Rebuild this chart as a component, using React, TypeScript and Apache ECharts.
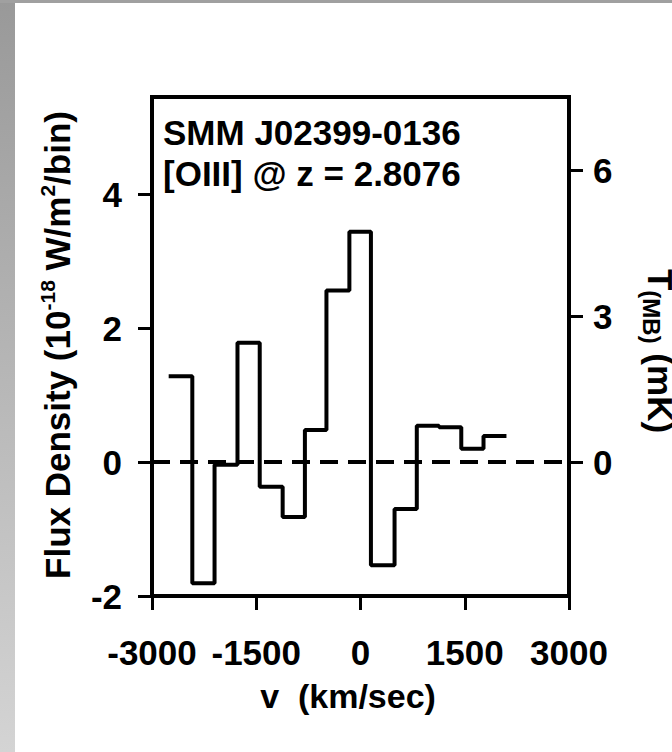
import React, { useEffect, useRef } from "react";
import * as echarts from "echarts";

// bin edges (km/s) and flux density per bin (1e-18 W/m^2/bin)
const binEdges = [-2760, -2420, -2100, -1770, -1450, -1120, -800, -490, -160, 150, 490, 810, 1130, 1450, 1770, 2100];
const flux = [1.28, -1.81, -0.04, 1.78, -0.37, -0.82, 0.48, 2.56, 3.44, -1.54, -0.7, 0.54, 0.52, 0.2, 0.39];
const xTicks = [-3000, -1500, 0, 1500, 3000];
const leftTicks = [-2, 0, 2, 4];
const rightTicks = [0, 3, 6];
const titleLines = ["SMM J02399-0136", "[OIII] @ z = 2.8076"];

const FONT = "'Liberation Sans', Arial, Helvetica, sans-serif";

export default function App() {
  const ref = useRef<HTMLDivElement>(null);
  useEffect(() => {
    if (!ref.current) return;
    const chart = echarts.init(ref.current, null, { renderer: "svg" });
    const stepData: [number, number][] = flux.map((v, i) => [binEdges[i], v]);
    stepData.push([binEdges[binEdges.length - 1], flux[flux.length - 1]]);
    const lbl = { color: "#000", fontFamily: FONT, fontWeight: "bold" as const, fontSize: 35 };
    const axLine = { show: true, onZero: false, lineStyle: { color: "#000", width: 4 } };
    const tickStyle = { color: "#000", width: 3 };
    chart.setOption({
      animation: false,
      backgroundColor: "#fff",
      grid: { left: 152, right: 103, top: 97, bottom: 156, show: true, borderColor: "#000", borderWidth: 4 },
      xAxis: {
        type: "value",
        min: -3000,
        max: 3000,
        interval: 1500,
        axisLine: axLine,
        axisTick: { show: true, length: 14, inside: false, lineStyle: tickStyle, customValues: xTicks },
        axisLabel: { ...lbl, margin: 39, customValues: xTicks, formatter: (v: number) => String(v) },
        splitLine: { show: false },
      },
      yAxis: [
        {
          type: "value",
          min: -2,
          max: 5.45,
          axisLine: axLine,
          axisTick: { show: true, length: 14, lineStyle: tickStyle, customValues: leftTicks },
          axisLabel: { ...lbl, margin: 30, customValues: leftTicks, formatter: (v: number) => String(v) },
          splitLine: { show: false },
        },
        {
          type: "value",
          position: "right",
          min: -2.75,
          max: 7.5,
          axisLine: axLine,
          axisTick: { show: true, length: 14, lineStyle: tickStyle, customValues: rightTicks },
          axisLabel: { ...lbl, margin: 24, customValues: rightTicks, formatter: (v: number) => String(v) },
          splitLine: { show: false },
        },
      ],
      series: [
        {
          type: "line",
          step: "end",
          data: stepData,
          symbol: "none",
          lineStyle: { color: "#000", width: 4 },
          markLine: {
            silent: true,
            symbol: ["none", "none"],
            label: { show: false },
            lineStyle: { color: "#000", width: 4, type: [18, 10] },
            data: [{ yAxis: 0 }],
          },
          z: 3,
        },
      ],
      graphic: [
        {
          type: "rect",
          shape: { x: 0, y: 0, width: 15, height: 752 },
          style: {
            fill: new echarts.graphic.LinearGradient(0, 0, 0, 1, [
              { offset: 0, color: "#999999" },
              { offset: 1, color: "#d4d4d4" },
            ]),
          },
          silent: true,
        },
        { type: "rect", shape: { x: 0, y: 0, width: 672, height: 3 }, style: { fill: "#a0a0a0" }, silent: true },
        {
          type: "text",
          x: 163,
          y: 132,
          style: { text: titleLines[0], font: `bold 35px ${FONT}`, fill: "#000", verticalAlign: "middle", align: "left" },
        },
        {
          type: "text",
          x: 163,
          y: 173,
          style: { text: titleLines[1], font: `bold 35px ${FONT}`, fill: "#000", verticalAlign: "middle", align: "left" },
        },
        {
          type: "text",
          x: 348,
          y: 696,
          style: { text: "v  (km/sec)", font: `bold 34px ${FONT}`, fill: "#000", verticalAlign: "middle", align: "center" },
        },
        {
          type: "text",
          x: 57,
          y: 345,
          rotation: Math.PI / 2,
          style: {
            text: "{a|Flux Density (10}{s|-18}{a| W/m}{s|2}{a|/bin)}",
            align: "center",
            verticalAlign: "middle",
            fill: "#000",
            rich: {
              a: { fontFamily: FONT, fontWeight: "bold", fontSize: 35, lineHeight: 40, fill: "#000" },
              s: { fontFamily: FONT, fontWeight: "bold", fontSize: 21, lineHeight: 22, verticalAlign: "top", fill: "#000" },
            },
          },
        },
        {
          type: "text",
          x: 660,
          y: 351,
          rotation: -Math.PI / 2,
          style: {
            text: "{a|T}{b|(MB)}{a| (mK)}",
            align: "center",
            verticalAlign: "middle",
            fill: "#000",
            rich: {
              a: { fontFamily: FONT, fontWeight: "bold", fontSize: 35, lineHeight: 42, fill: "#000" },
              b: { fontFamily: FONT, fontWeight: "bold", fontSize: 24, lineHeight: 26, verticalAlign: "bottom", fill: "#000" },
            },
          },
        },
      ],
    });
    return () => chart.dispose();
  }, []);
  return <div ref={ref} style={{ position: "fixed", left: 0, top: 0, width: 672, height: 752 }} />;
}
